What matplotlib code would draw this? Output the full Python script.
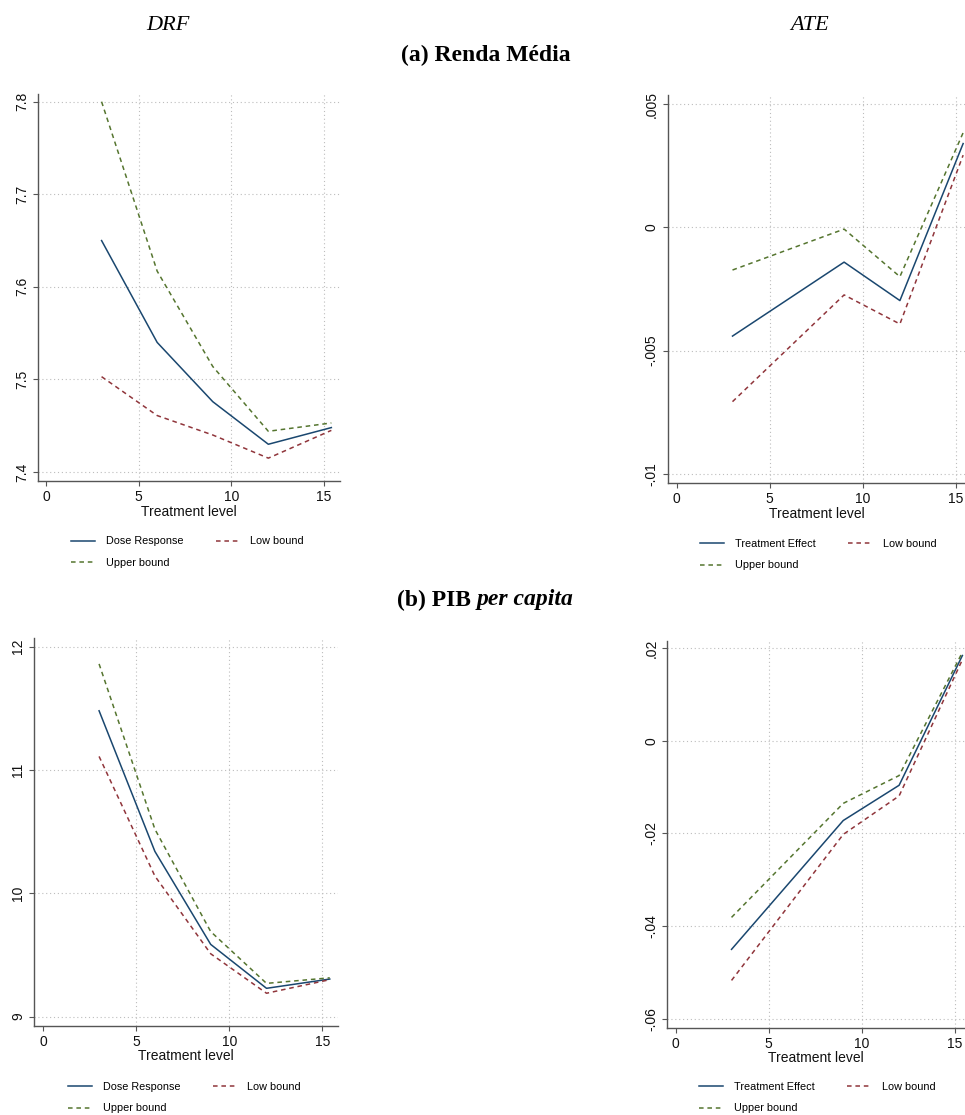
import matplotlib
matplotlib.use('Agg')
import matplotlib.pyplot as plt

# níveis de tratamento
dose = [3, 6, 9, 12, 15.4]
dose_ate = [3, 9, 12, 15.4]

# (a) Renda Média
renda_drf = [7.650, 7.540, 7.476, 7.430, 7.448]
renda_drf_up = [7.800, 7.617, 7.514, 7.444, 7.453]
renda_drf_low = [7.503, 7.461, 7.440, 7.415, 7.445]
renda_ate = [-0.00441, -0.00141, -0.00297, 0.00340]
renda_ate_up = [-0.00173, -0.00007, -0.00200, 0.00384]
renda_ate_low = [-0.00707, -0.00274, -0.00392, 0.00293]

# (b) PIB per capita
pib_drf = [11.48, 10.34, 9.586, 9.23, 9.305]
pib_drf_up = [11.86, 10.52, 9.69, 9.27, 9.315]
pib_drf_low = [11.11, 10.14, 9.51, 9.19, 9.30]
pib_ate = [-0.0450, -0.0172, -0.0096, 0.0184]
pib_ate_up = [-0.0381, -0.0135, -0.0075, 0.0191]
pib_ate_low = [-0.0517, -0.0202, -0.0119, 0.0175]

# ticks
xticks = [0, 5, 10, 15]
renda_drf_ticks = [7.4, 7.5, 7.6, 7.7, 7.8]
renda_drf_labels = ['7.4', '7.5', '7.6', '7.7', '7.8']
renda_ate_ticks = [-0.01, -0.005, 0, 0.005]
renda_ate_labels = ['-.01', '-.005', '0', '.005']
pib_drf_ticks = [9, 10, 11, 12]
pib_drf_labels = ['9', '10', '11', '12']
pib_ate_ticks = [-0.06, -0.04, -0.02, 0, 0.02]
pib_ate_labels = ['-.06', '-.04', '-.02', '0', '.02']

NAVY = '#1a476f'
MAROON = '#90353b'
GREEN = '#55752f'
SANS = 'Liberation Sans'
SERIF = 'Liberation Serif'
GRADE = dict(color='#bdbdbd', linestyle=(0, (1, 2.5)), lw=0.8)

plt.rcParams['font.family'] = SANS

fig = plt.figure(figsize=(9.65, 11.15), dpi=100)


def painel(rect, x, y, up, low, nome, xlim, ylim, yticks, ylabels, leg_xy):
	ax = fig.add_axes(rect)
	ax.plot(x, y, color=NAVY, lw=1.1, label=nome, zorder=3)
	ax.plot(x, low, color=MAROON, lw=1.1, dashes=(3, 2.5), label='Low bound', zorder=3)
	ax.plot(x, up, color=GREEN, lw=1.1, dashes=(3, 2.5), label='Upper bound', zorder=3)
	ax.set_xlim(*xlim)
	ax.set_ylim(*ylim)
	ax.set_xticks(xticks)
	ax.set_xticklabels([str(t) for t in xticks])
	ax.set_yticks(yticks)
	ax.set_yticklabels(ylabels, rotation=90, va='center')
	# grade pontilhada
	ax.grid(axis='y', **GRADE)
	for t in xticks[1:]:
		ax.axvline(t, zorder=1, **GRADE)
	for s in ['top', 'right']:
		ax.spines[s].set_visible(False)
	for s in ['left', 'bottom']:
		ax.spines[s].set_color('#555555')
		ax.spines[s].set_linewidth(1.0)
	ax.tick_params(length=3.5, width=0.8, color='#555555', labelsize=10, labelcolor='#111111')
	ax.tick_params(axis='x', pad=3)
	ax.tick_params(axis='y', pad=3)
	ax.set_xlabel('Treatment level', fontsize=10, labelpad=0.5, color='#111111')
	h, l = ax.get_legend_handles_labels()
	ordem = [0, 2, 1]
	ax.legend([h[i] for i in ordem], [l[i] for i in ordem], ncol=2, frameon=False,
		fontsize=7.8, loc='upper left', bbox_to_anchor=leg_xy, bbox_transform=fig.transFigure,
		borderpad=0, borderaxespad=0, handlelength=2.2, handletextpad=1.0,
		columnspacing=3.0, labelspacing=1.1)
	return ax


painel([0.0394, 0.5686, 0.3126, 0.3471], dose, renda_drf, renda_drf_up, renda_drf_low,
	'Dose Response', (-0.43, 15.85), (7.3903, 7.8083), renda_drf_ticks, renda_drf_labels,
	(0.0736, 0.519))
painel([0.692, 0.5666, 0.308, 0.3482], dose_ate, renda_ate, renda_ate_up, renda_ate_low,
	'Treatment Effect', (-0.48, 15.5), (-0.01038, 0.00537), renda_ate_ticks, renda_ate_labels,
	(0.7254, 0.517))
painel([0.0352, 0.0801, 0.315, 0.3477], dose, pib_drf, pib_drf_up, pib_drf_low,
	'Dose Response', (-0.5, 15.84), (8.927, 12.07), pib_drf_ticks, pib_drf_labels,
	(0.0705, 0.0300))
painel([0.6915, 0.0783, 0.3085, 0.3471], dose_ate, pib_ate, pib_ate_up, pib_ate_low,
	'Treatment Effect', (-0.45, 15.54), (-0.0619, 0.0216), pib_ate_ticks, pib_ate_labels,
	(0.7244, 0.0300))

# títulos
fig.text(168 / 965, 1 - 25 / 1115, 'DRF', family=SERIF, style='italic', fontsize=16,
	ha='center', va='center')
fig.text(810 / 965, 1 - 25 / 1115, 'ATE', family=SERIF, style='italic', fontsize=16,
	ha='center', va='center')
fig.text(486 / 965, 1 - 55 / 1115, '(a) Renda Média', family=SERIF, weight='bold',
	fontsize=17, ha='center', va='center')

# (b) PIB per capita, com parte em itálico
r = fig.canvas.get_renderer()
yb = 1 - 600 / 1115
t1 = fig.text(0, yb, '(b) PIB ', family=SERIF, weight='bold', fontsize=17, va='center')
t2 = fig.text(0, yb, 'per capita', family=SERIF, weight='bold', style='italic', fontsize=17,
	va='center')
w1 = t1.get_window_extent(r).width / fig.bbox.width
w2 = t2.get_window_extent(r).width / fig.bbox.width
x0 = 485 / 965 - (w1 + w2) / 2
t1.set_x(x0)
t2.set_x(x0 + w1)

plt.savefig('out.png', dpi=100)
